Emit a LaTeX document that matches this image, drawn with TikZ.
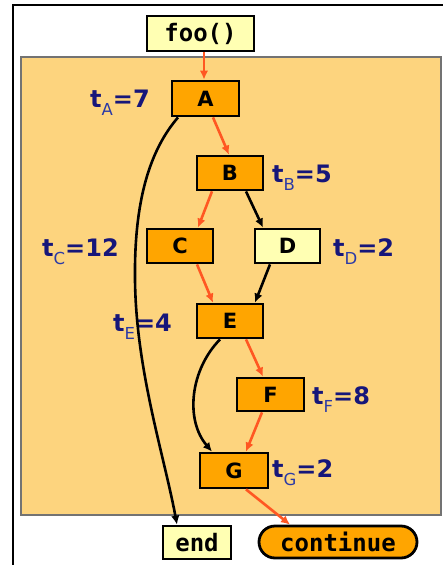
\documentclass[tikz,border=0pt]{standalone}
\usepackage{fontspec}
\setmainfont{DejaVu Sans}
\setmonofont{DejaVu Sans Mono}
\usetikzlibrary{arrows.meta}

\definecolor{regionfill}{HTML}{FDD47E}
\definecolor{blockfill}{HTML}{FFA500}
\definecolor{paleblock}{HTML}{FFFFB3}
\definecolor{hotpath}{HTML}{FF5722}
\definecolor{labelnavy}{HTML}{16167A}
\definecolor{labelsub}{HTML}{2B3AA6}

% time annotation: t_<block>=<value>
\newcommand{\tcost}[2]{t\raisebox{-8pt}{\fontsize{16.5}{16.5}\selectfont\mdseries\color{labelsub}#1}=#2}

\begin{document}
\begin{tikzpicture}[x=1pt,y=-1pt,
  block/.style={draw=black,line width=2.8pt,fill=blockfill,inner sep=0pt,
    font=\fontsize{21}{21}\selectfont\bfseries},
  paleblk/.style={block,fill=paleblock},
  codebox/.style={draw=black,line width=2.8pt,fill=paleblock,inner sep=0pt,
    font=\fontsize{24}{24}\selectfont\ttfamily\bfseries},
  exitpill/.style={codebox,fill=blockfill,rounded corners=16pt},
  cost/.style={anchor=base west,text=labelnavy,inner sep=0pt,
    font=\fontsize{24}{24}\selectfont\bfseries},
  edge/.style={line width=2.6pt,-{Latex[length=9pt,width=8.5pt]}},
  hot/.style={edge,draw=hotpath,-{Latex[length=9pt,width=8.5pt,color=hotpath]}},
  cold/.style={edge,draw=black}]

\useasboundingbox (0,0) rectangle (443,565);

% outer frame and function body region
\draw[line width=2.4pt] (443,5) -- (13,5) -- (13,565);
\fill[regionfill] (21,57) rectangle (441,515);
\draw[black!55,line width=1.5pt] (21,57) rectangle (441,515);

% blocks
\node[codebox,minimum width=107pt,minimum height=35pt] (foo) at (200.5,33.5) {foo()};
\node[block,minimum width=67pt,minimum height=35pt] (A) at (205.5,98.5) {A};
\node[block,minimum width=66pt,minimum height=34pt] (B) at (230,173) {B};
\node[block,minimum width=66pt,minimum height=34pt] (C) at (180,246) {C};
\node[paleblk,minimum width=65pt,minimum height=34pt] (D) at (287.5,246) {D};
\node[block,minimum width=66pt,minimum height=34pt] (E) at (230,321) {E};
\node[block,minimum width=67pt,minimum height=33pt] (F) at (270.5,394.5) {F};
\node[block,minimum width=68pt,minimum height=35pt] (G) at (234,470.5) {G};
\node[codebox,minimum width=68pt,minimum height=33pt] (end) at (197,542.5) {end};
\node[exitpill,minimum width=158pt,minimum height=32pt] (cont) at (338,542) {continue};

% per-block times
\node[cost] (tA) at (90,107) {\tcost{A}{7}};
\node[cost] (tB) at (272,182) {\tcost{B}{5}};
\node[cost] (tC) at (42,256) {\tcost{C}{12}};
\node[cost] (tD) at (333,256) {\tcost{D}{2}};
\node[cost] (tE) at (113,331) {\tcost{E}{4}};
\node[cost] (tF) at (312,404) {\tcost{F}{8}};
\node[cost] (tG) at (272,477) {\tcost{G}{2}};

% hot path
\draw[hot] (204,0 |- foo.south) -- (204,0 |- A.north);
\draw[hot] (213,0 |- A.south) -- (229,0 |- B.north);
\draw[hot] (212,0 |- B.south) -- (198,0 |- C.north);
\draw[hot] (197,0 |- C.south) -- (213,0 |- E.north);
\draw[hot] (246,0 |- E.south) -- (263,0 |- F.north);
\draw[hot] (262,0 |- F.south) -- (246,0 |- G.north);
\draw[hot] (246,0 |- G.south) -- (290,0 |- cont.north);

% other edges
\draw[cold] (246,0 |- B.south) -- (263,0 |- D.north);
\draw[cold] (270,0 |- D.south) -- (255,0 |- E.north);
\draw[cold] (220,0 |- E.south) .. controls (190,370) and (185,420) .. (212,0 |- G.north);
\draw[cold] (178,0 |- A.south) .. controls (150,150) and (134,200) .. (135,280)
  .. controls (136,370) and (164,455) .. (177,0 |- end.north);

\end{tikzpicture}
\end{document}
